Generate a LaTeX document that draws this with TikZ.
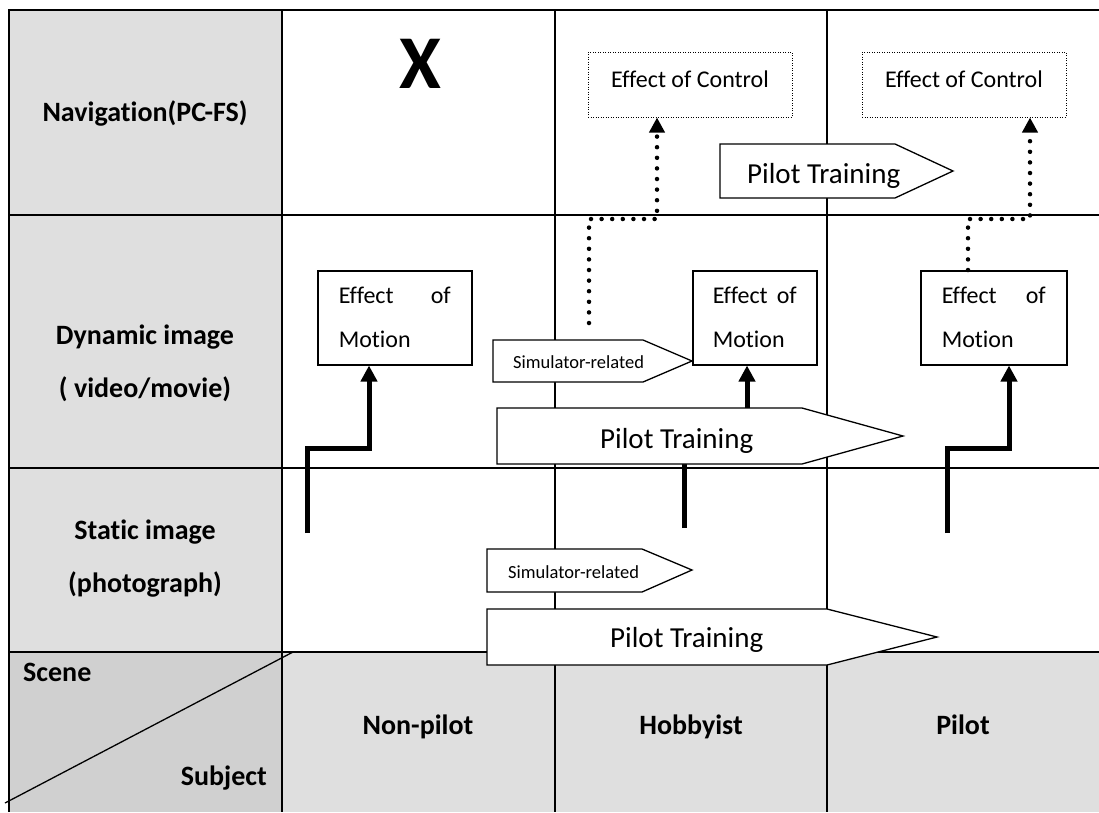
\documentclass[tikz,border=0pt]{standalone}
\usepackage{fontspec}
\setmainfont{Carlito}[Ligatures={NoCommon,NoContextual}]
\usetikzlibrary{arrows.meta}
\definecolor{cellgray}{RGB}{223,223,223}
\definecolor{cornergray}{RGB}{208,208,208}
\begin{document}
\begin{tikzpicture}[x=1pt,y=-1pt,
  gridline/.style={line width=2pt},
  hdr/.style={font=\fontsize{28}{30}\selectfont\bfseries, inner sep=0pt},
  motionbox/.style={draw, fill=white, line width=1.5pt, font=\fontsize{24}{44}\selectfont,
     align=justify, inner xsep=21pt, inner ysep=0pt, minimum height=94pt, anchor=north west},
  ctrlbox/.style={draw, line width=1pt, dash pattern=on 1pt off 1.5pt, minimum width=204pt,
     minimum height=65pt, font=\fontsize{24}{26}\selectfont, text depth=11pt, inner sep=0pt},
  boldarrow/.style={line width=5pt, line join=miter, -{Triangle[width=16pt,length=16pt]}},
  dotline/.style={line width=4.5pt, line cap=round, dash pattern=on 0pt off 10.6pt},
  dotarrow/.style={dotline, -{Triangle[width=15pt,length=15pt]}},
  banner/.style={draw, fill=white, line width=1.3pt, line join=miter},
  bigtxt/.style={font=\fontsize{29}{30}\selectfont, inner sep=0pt, anchor=base west},
  smalltxt/.style={font=\fontsize{18.5}{20}\selectfont, inner sep=0pt, anchor=base west},
]
\useasboundingbox (0,0) rectangle (1099,812);
% cell fills
\fill[cellgray] (9,10) rectangle (282,652);
\fill[cellgray] (282,652) rectangle (1099,812);
\fill[cornergray] (9,652) rectangle (282,812);
% grid
\draw[gridline] (8,10) -- (1099,10);
\draw[gridline] (9,215) -- (1099,215);
\draw[gridline] (9,468) -- (1099,468);
\draw[gridline] (9,652) -- (1099,652);
\draw[gridline] (9,10) -- (9,812);
\draw[gridline] (282,10) -- (282,812);
\draw[gridline] (555,10) -- (555,812);
\draw[gridline] (827,10) -- (827,812);
\draw[line width=1.3pt] (5,803) -- (293,652);

% header texts
\node[hdr, anchor=base] (nav) at (145,121) {Navigation(PC-FS)};
\node[hdr, anchor=base] (dyn1) at (145,344) {Dynamic image};
\node[hdr, anchor=base] (dyn2) at (145,397) {( video/movie)};
\node[hdr, anchor=base] (sta1) at (145,539) {Static image};
\node[hdr, anchor=base] (sta2) at (145,592) {(photograph)};
\node[hdr, anchor=base west] (scene) at (23,681) {Scene};
\node[hdr, anchor=base east] (subj) at (267,785) {Subject};
\node[hdr, anchor=base] (nonp) at (418,734) {Non-pilot};
\node[hdr, anchor=base] (hobb) at (691,734) {Hobbyist};
\node[hdr, anchor=base] (pilot) at (963,734) {Pilot};
\node[font=\fontsize{76}{76}\selectfont\bfseries, inner sep=0pt, anchor=base] (xmark) at (420,88) {X};

% boxes
\node[ctrlbox] (ctrlH) at (690,84.5) {Effect of Control};
\node[ctrlbox] (ctrlP) at (964,84.5) {Effect of Control};
\node[motionbox, text width=112pt] (mN) at (317,270) {Effect\hfill of\\Motion};
\node[motionbox, text width=84pt, inner xsep=20pt] (mH) at (692,270) {Effect\hfill of\\Motion};
\node[motionbox, text width=104pt] (mP) at (920,270) {Effect\hfill of\\Motion};

% free ends of connectors
\coordinate (hd0) at (589,323);
\coordinate (np0) at (307,533);
\coordinate (hb0) at (684,528);
\coordinate (pl0) at (947,533);

% dotted connectors
\draw[dotarrow] (hd0) -- (589,219) -- (657,219) -- (657,0 |- ctrlH.south);
\draw[dotarrow] (968,0 |- mP.north) -- (968,219) -- (1030,219) -- (1030,0 |- ctrlP.south);

% thick connectors
\draw[boldarrow] (np0) -- (307,448) -- (369,448) -- (369,0 |- mN.south);
\draw[boldarrow] (hb0) -- (684,440) -- (747,440) -- (747,0 |- mH.south);
\draw[boldarrow] (pl0) -- (947,448) -- (1009,448) -- (1009,0 |- mP.south);

% banners
\draw[banner] (720,144) -- (895,144) -- (953,171) -- (895,198) -- (720,198) -- cycle;
\node[bigtxt] (pt1) at (747,183) {Pilot Training};
\draw[banner] (493,340) -- (643,340) -- (692,361) -- (643,382) -- (493,382) -- cycle;
\node[smalltxt] (sr1) at (513,368) {Simulator-related};
\draw[banner] (497,408) -- (802,408) -- (903,436) -- (802,464) -- (497,464) -- cycle;
\node[bigtxt] (pt2) at (600,448) {Pilot Training};
\draw[banner] (487,549) -- (642,549) -- (692,570) -- (642,592) -- (487,592) -- cycle;
\node[smalltxt] (sr2) at (508,578) {Simulator-related};
\draw[banner] (487,609) -- (827,609) -- (937,637) -- (827,665) -- (487,665) -- cycle;
\node[bigtxt] (pt3) at (610,647) {Pilot Training};
\end{tikzpicture}
\end{document}
